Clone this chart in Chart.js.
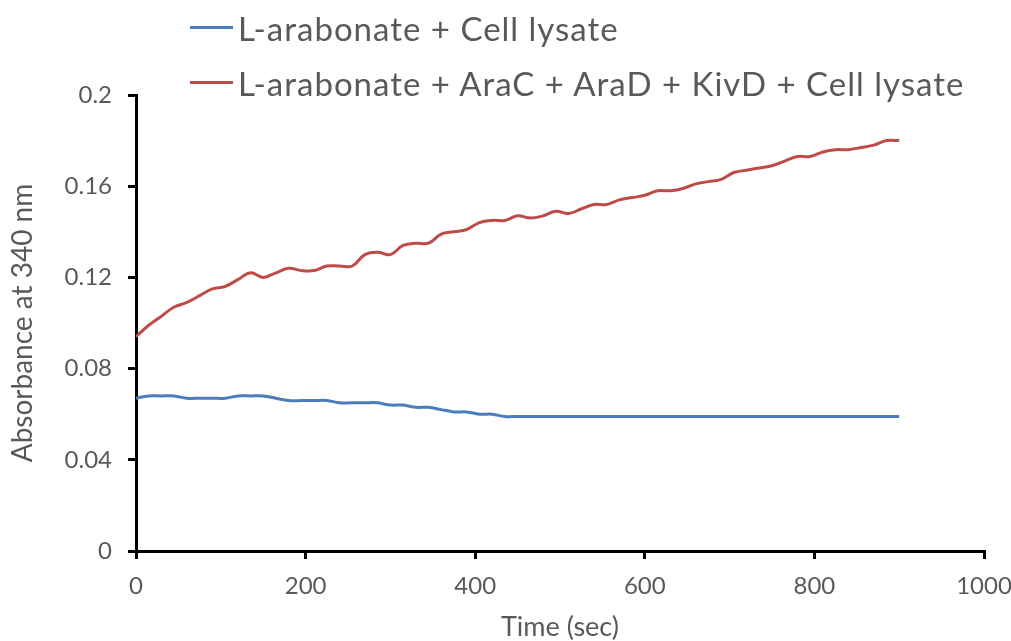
<!DOCTYPE html>
<html>
<head>
<meta charset="utf-8">
<script src="https://cdn.jsdelivr.net/npm/chart.js@4"></script>
<style>
  body { margin: 0; background: #fff; }
  #wrap { position: relative; width: 1011px; height: 641px; }
  #legend { position: absolute; left: 190px; top: 0px; font-family: Lato, sans-serif; font-size: 33px; letter-spacing: 1px; color: #595959; }
  .item { height: 55px; display: flex; align-items: center; white-space: nowrap; }
  .swatch { width: 43px; height: 3px; margin-right: 5px; }
</style>
</head>
<body>
<div id="wrap">
  <canvas id="chart" width="1011" height="641"></canvas>
  <div id="legend"></div>
</div>
<script>
// Données
const times = [0, 15, 30, 45, 60, 75, 90, 105, 120, 135, 150, 165, 180, 195, 210, 225, 240, 255, 270, 285,
  300, 315, 330, 345, 360, 375, 390, 405, 420, 435, 450, 465, 480, 495, 510, 525, 540, 555, 570, 585,
  600, 615, 630, 645, 660, 675, 690, 705, 720, 735, 750, 765, 780, 795, 810, 825, 840, 855, 870, 885, 900];

const lysate = [0.067, 0.068, 0.068, 0.068, 0.067, 0.067, 0.067, 0.067, 0.068, 0.068, 0.068, 0.067, 0.066, 0.066, 0.066, 0.066, 0.065, 0.065, 0.065, 0.065,
  0.064, 0.064, 0.063, 0.063, 0.062, 0.061, 0.061, 0.060, 0.060, 0.059, 0.059, 0.059, 0.059, 0.059, 0.059, 0.059, 0.059, 0.059, 0.059, 0.059,
  0.059, 0.059, 0.059, 0.059, 0.059, 0.059, 0.059, 0.059, 0.059, 0.059, 0.059, 0.059, 0.059, 0.059, 0.059, 0.059, 0.059, 0.059, 0.059, 0.059, 0.059];

const enzymes = [0.094, 0.099, 0.103, 0.107, 0.109, 0.112, 0.115, 0.116, 0.119, 0.122, 0.120, 0.122, 0.124, 0.123, 0.123, 0.125, 0.125, 0.125, 0.130, 0.131,
  0.130, 0.134, 0.135, 0.135, 0.139, 0.140, 0.141, 0.144, 0.145, 0.145, 0.147, 0.146, 0.147, 0.149, 0.148, 0.150, 0.152, 0.152, 0.154, 0.155,
  0.156, 0.158, 0.158, 0.159, 0.161, 0.162, 0.163, 0.166, 0.167, 0.168, 0.169, 0.171, 0.173, 0.173, 0.175, 0.176, 0.176, 0.177, 0.178, 0.180, 0.180];

const seriesNames = ['L-arabonate + Cell lysate', 'L-arabonate + AraC + AraD + KivD + Cell lysate'];
const seriesColors = ['#4A7EBB', '#BE4B48'];
const xTicks = [0, 200, 400, 600, 800, 1000];
const yTicks = [0, 0.04, 0.08, 0.12, 0.16, 0.2];

const textColor = '#595959';
const font = 'Lato, sans-serif';

function toPoints(values) {
    return times.map((t, i) => ({ x: t, y: values[i] }));
}

const datasets = [lysate, enzymes].map((values, i) => ({
    label: seriesNames[i],
    data: toPoints(values),
    borderColor: seriesColors[i],
    backgroundColor: seriesColors[i],
    borderWidth: 3,
    pointRadius: 0,
    tension: 0.4,
    fill: false
}));

new Chart(document.getElementById('chart'), {
    type: 'line',
    data: { datasets },
    options: {
        responsive: false,
        animation: false,
        layout: { padding: { top: 95, right: 27, left: 0, bottom: 0 } },
        plugins: { legend: { display: false }, tooltip: { enabled: false } },
        scales: {
            x: {
                type: 'linear',
                min: 0,
                max: 1000,
                afterFit: s => { s.height = 90; s.paddingLeft = 0; s.paddingRight = 0; },
                afterBuildTicks: s => { s.ticks = xTicks.map(v => ({ value: v })); },
                border: { color: '#000', width: 3 },
                grid: { drawOnChartArea: false, drawTicks: true, tickLength: 8, color: '#000', lineWidth: 3 },
                ticks: { color: textColor, font: { family: font, size: 24 }, padding: 13, maxRotation: 0, callback: v => String(v) },
                title: { display: true, text: 'Time (sec)', color: textColor, font: { family: font, size: 27 }, padding: { top: 0, bottom: -2 } }
            },
            y: {
                min: 0,
                max: 0.2,
                afterFit: s => { s.width = 136; },
                afterBuildTicks: s => { s.ticks = yTicks.map(v => ({ value: v })); },
                border: { color: '#000', width: 3 },
                grid: { drawOnChartArea: false, drawTicks: true, tickLength: 8, color: '#000', lineWidth: 3 },
                ticks: { color: textColor, font: { family: font, size: 24 }, padding: 16, callback: v => String(parseFloat(v.toFixed(2))) },
                title: { display: true, text: 'Absorbance at 340 nm', color: textColor, font: { family: font, size: 28 }, padding: { top: 6, bottom: 0 } }
            }
        }
    }
});

// Légende HTML
document.getElementById('legend').innerHTML = seriesNames.map((name, i) => `
    <div class="item"><span class="swatch" style="background:${seriesColors[i]}"></span><span>${name}</span></div>
`).join('');
</script>
</body>
</html>
